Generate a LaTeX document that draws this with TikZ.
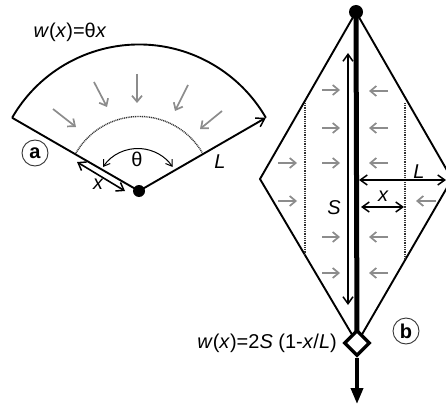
\documentclass[tikz,border=0pt]{standalone}
\usepackage{fontspec}
\setmainfont{Liberation Sans}
\usepackage{tikz}
\usetikzlibrary{arrows.meta,positioning,calc,shapes.geometric}

\begin{document}
\begin{tikzpicture}[
  x=1pt, y=-1pt,
  every node/.style={font=\fontsize{20}{22}\selectfont, inner sep=0pt},
  edgeline/.style={draw=black, line width=1.9pt, line join=miter},
  dimline/.style={black, line width=1.6pt, {Straight Barb[length=7pt,width=10pt,line width=1.5pt]}-{Straight Barb[length=7pt,width=10pt,line width=1.5pt]}},
  pressure/.style={draw=gray!90, line width=1.7pt, -{Straight Barb[length=6pt,width=10pt,line width=1.7pt]}},
  dotline/.style={black!80, line width=1.4pt, dash pattern=on 1pt off 0.8pt},
  joint/.style={circle, fill=black, inner sep=0pt, minimum size=#1},
  tag/.style={circle, draw=black!80, line width=0.9pt, minimum size=26pt, font=\fontsize{20}{22}\bfseries\selectfont},
]
\clip (0,0) rectangle (446,406);

% panel a
\coordinate (apex) at (139,191);
\coordinate (fanl) at ($(apex)+(150:146.5 and -146.5)$);
\coordinate (fanr) at ($(apex)+(30:146.5 and -146.5)$);
\node[joint=12pt] (hub) at (apex) {};
\draw[edgeline] (hub.center) -- (fanl);
\draw[edgeline] (fanl) arc[start angle=210, end angle=330, radius=146.5];
\draw[edgeline, -{Straight Barb[length=8pt,width=10pt,line width=1.5pt]}] (hub.center) -- (fanr);
\draw[dotline] (76,153) arc[start angle=210, end angle=330, radius=73];
\draw[black, line width=1pt, {Straight Barb[length=6pt,width=8pt]}-{Straight Barb[length=6pt,width=8pt]}]
  (103,167) arc[start angle=214, end angle=326, radius=42];
\draw[pressure] (53,109) -- (76,127);
\draw[pressure] (94,82) -- (107,107);
\draw[pressure] (137,74) -- (137,103);
\draw[pressure] (188,85) -- (175,111);
\draw[pressure] (222,111) -- (200,129);
\draw[dimline] (77,162) -- (125,191);
\node (ttheta) at (137,159) {θ};
\node (tx) at (98,184) {\itshape x};
\node (tL) at (220,162) {\itshape L};
\node (tload) at (70,32) {\textit{w}(\textit{x})=θ\textit{x}};
\node[tag] (taga) at (35,153) {a};

% panel b
\coordinate (loadpt) at (357,343);
\coordinate (kitel) at (260,179);
\coordinate (kiter) at (452,179);
\coordinate (tail) at (357,404);
\node[joint=14pt] (tip) at (356,12) {};
\draw[edgeline] (tip.center) -- (kitel) -- (loadpt) -- (kiter) -- cycle;
\draw[black, line width=5pt] (tip.center) -- (loadpt);
\node[diamond, draw, line width=3.4pt, fill=white, minimum size=26pt] (load) at (loadpt) {};
\draw[black, line width=3.6pt, -{Triangle[length=16pt,width=12pt]}] (load.south) -- (tail);
\draw[dotline] (305,103) -- (305,255);
\draw[dotline] (405,103) -- (405,259);
\draw[pressure] (322,90) -- (340,90);
\draw[pressure] (322,128) -- (340,128);
\draw[pressure] (322,163) -- (340,163);
\draw[pressure] (322,237) -- (340,237);
\draw[pressure] (322,273) -- (340,273);
\draw[pressure] (278,163) -- (297,163);
\draw[pressure] (278,201) -- (297,201);
\draw[pressure] (388,91) -- (369,91);
\draw[pressure] (388,128) -- (369,128);
\draw[pressure] (388,163) -- (369,163);
\draw[pressure] (388,237) -- (369,237);
\draw[pressure] (388,273) -- (369,273);
\draw[pressure] (436,201) -- (416,201);
\draw[dimline] (348,53) -- (348,305);
\draw[dimline] (359,180) -- (446,180);
\draw[dimline] (361,207) -- (404,207);
\node (tS) at (334,208) {\itshape S};
\node (tLb) at (419,172) {\itshape L};
\node (txb) at (383,196) {\itshape x};
\node[anchor=east] (tloadb) at (337,343) {\textit{w}(\textit{x})=2\textit{S} (1-\textit{x}/\textit{L})};
\node[tag] (tagb) at (406,331) {b};
\end{tikzpicture}
\end{document}
